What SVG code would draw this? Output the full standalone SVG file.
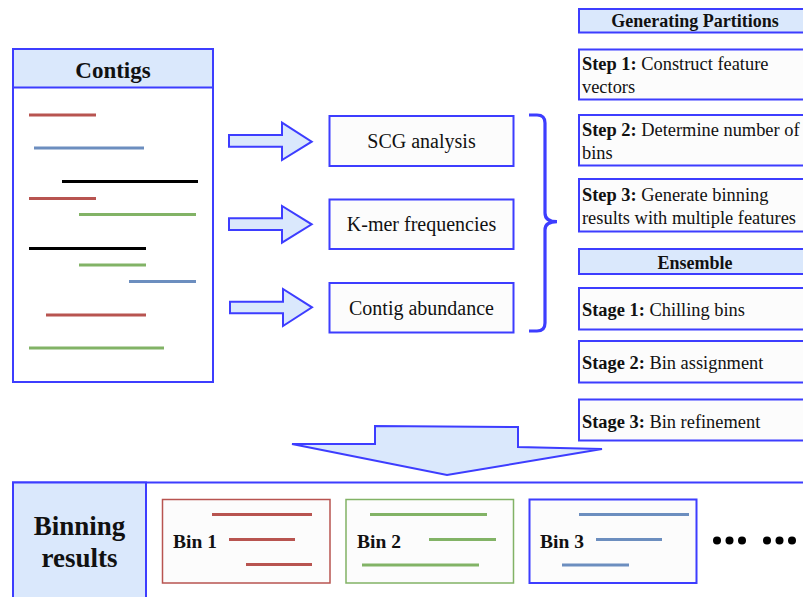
<svg xmlns="http://www.w3.org/2000/svg" width="803" height="597" viewBox="0 0 803 597">
<style>
  .box { fill: #fcfcfc; stroke: #3d3dff; stroke-width: 2; }
  .hdr { fill: #dae8fc; stroke: #3d3dff; stroke-width: 2; }
  .t { font-family: "Liberation Serif", "Times New Roman", serif; fill: #111; }
  .b { font-weight: bold; }
  .s { font-size: 18.4px; }
  .red { stroke: #b85450; stroke-width: 3; }
  .blue { stroke: #6c8ebf; stroke-width: 3; }
  .green { stroke: #82b366; stroke-width: 3; }
  .blk { stroke: #000; stroke-width: 3; }
  .arr { fill: #dae8fc; stroke: #3d3dff; stroke-width: 2; stroke-linejoin: miter; }
</style>
<rect width="803" height="597" fill="#ffffff"/>

<g id="contigs">
  <rect x="13" y="49" width="200" height="333" fill="#ffffff" stroke="#3d3dff" stroke-width="2"/>
  <rect x="13" y="49" width="200" height="38.5" class="hdr"/>
  <text x="113" y="77.5" class="t b" font-size="23" text-anchor="middle">Contigs</text>
  <line x1="29" y1="115" x2="96" y2="115" class="red"/>
  <line x1="34" y1="148" x2="144" y2="148" class="blue"/>
  <line x1="62" y1="181.5" x2="198" y2="181.5" class="blk"/>
  <line x1="29" y1="198.5" x2="96" y2="198.5" class="red"/>
  <line x1="79" y1="214.5" x2="196" y2="214.5" class="green"/>
  <line x1="29" y1="248.5" x2="146" y2="248.5" class="blk"/>
  <line x1="79" y1="265" x2="146" y2="265" class="green"/>
  <line x1="129" y1="281.5" x2="196" y2="281.5" class="blue"/>
  <line x1="46" y1="315" x2="146" y2="315" class="red"/>
  <line x1="29" y1="348" x2="164" y2="348" class="green"/>
</g>

<g id="connectors">
  <polygon class="arr" points="229,135 282,135 282,122.7 311.7,141.7 282,160 282,146.7 229,146.7"/>
  <polygon class="arr" points="229,218.3 282,218.3 282,206 311.7,224.3 282,242.7 282,230 229,230"/>
  <polygon class="arr" points="230,301.7 283,301.7 283,289 312,307.3 283,326 283,313.3 230,313.3"/>
  <path d="M529,115 H537 Q545,115 545,123 V213 Q545,221.7 557,221.7 Q545,221.7 545,230 V323 Q545,331 537,331 H529" fill="none" stroke="#3d3dff" stroke-width="3.2"/>
  <polygon class="arr" points="292,444 375,444 375,426 518,427 518,447 602,449 447,475"/>
</g>

<g id="scg">
  <rect x="329.5" y="116" width="184" height="50" class="box"/>
  <text x="421.5" y="147.5" class="t" font-size="20" text-anchor="middle">SCG analysis</text>
</g>
<g id="kmer">
  <rect x="329.5" y="199.5" width="184" height="49.5" class="box"/>
  <text x="421.5" y="231" class="t" font-size="20" text-anchor="middle">K-mer frequencies</text>
</g>
<g id="abundance">
  <rect x="329.5" y="283" width="184" height="49.5" class="box"/>
  <text x="421.5" y="314.5" class="t" font-size="20" text-anchor="middle">Contig abundance</text>
</g>

<g id="gen-partitions">
  <rect x="579" y="9" width="240" height="23.5" class="hdr"/>
  <text x="695" y="27" class="t b" font-size="18" text-anchor="middle">Generating Partitions</text>
</g>
<g id="step1">
  <rect x="579" y="49.5" width="240" height="50" class="box"/>
  <text x="582" y="69.5" class="t s"><tspan class="b">Step 1:</tspan> Construct feature</text>
  <text x="582" y="92.5" class="t s">vectors</text>
</g>
<g id="step2">
  <rect x="579" y="115" width="240" height="50.5" class="box"/>
  <text x="582" y="135.5" class="t s"><tspan class="b">Step 2:</tspan> Determine number of</text>
  <text x="582" y="158.5" class="t s">bins</text>
</g>
<g id="step3">
  <rect x="579" y="179" width="240" height="52.5" class="box"/>
  <text x="582" y="200.5" class="t s"><tspan class="b">Step 3:</tspan> Generate binning</text>
  <text x="582" y="223.5" class="t s">results with multiple features</text>
</g>
<g id="ensemble">
  <rect x="579" y="249" width="240" height="25" class="hdr"/>
  <text x="695" y="268.5" class="t b" font-size="18" text-anchor="middle">Ensemble</text>
</g>
<g id="stage1">
  <rect x="579" y="288" width="240" height="41.5" class="box"/>
  <text x="582" y="315.5" class="t s"><tspan class="b">Stage 1:</tspan> Chilling bins</text>
</g>
<g id="stage2">
  <rect x="579" y="341" width="240" height="41.5" class="box"/>
  <text x="582" y="369" class="t s"><tspan class="b">Stage 2:</tspan> Bin assignment</text>
</g>
<g id="stage3">
  <rect x="579" y="399.5" width="240" height="41" class="box"/>
  <text x="582" y="427.5" class="t s"><tspan class="b">Stage 3:</tspan> Bin refinement</text>
</g>

<g id="binning-results">
  <rect x="13" y="482.5" width="800" height="130" fill="#ffffff" stroke="#3d3dff" stroke-width="2"/>
  <rect x="13" y="482.5" width="133" height="130" class="hdr"/>
  <text x="79.5" y="534.5" class="t b" font-size="27" text-anchor="middle">Binning</text>
  <text x="79.5" y="566.5" class="t b" font-size="27" text-anchor="middle">results</text>
</g>
<g id="bin1">
  <rect x="162.5" y="499.5" width="167.5" height="83.5" fill="#fcfcfc" stroke="#b85450" stroke-width="1.5"/>
  <text x="173" y="547.5" class="t b" font-size="19.5">Bin 1</text>
  <line x1="212" y1="514.5" x2="312" y2="514.5" class="red"/>
  <line x1="229" y1="539.5" x2="295" y2="539.5" class="red"/>
  <line x1="246" y1="564.5" x2="312" y2="564.5" class="red"/>
</g>
<g id="bin2">
  <rect x="346" y="499.5" width="167.5" height="83.5" fill="#fcfcfc" stroke="#82b366" stroke-width="1.5"/>
  <text x="357" y="547.5" class="t b" font-size="19.5">Bin 2</text>
  <line x1="370" y1="514.5" x2="487" y2="514.5" class="green"/>
  <line x1="429" y1="539.5" x2="496" y2="539.5" class="green"/>
  <line x1="362" y1="565" x2="479" y2="565" class="green"/>
</g>
<g id="bin3">
  <rect x="529.5" y="499.5" width="167" height="83.5" fill="#fcfcfc" stroke="#3d3dff" stroke-width="2"/>
  <text x="540" y="547.5" class="t b" font-size="19.5">Bin 3</text>
  <line x1="579" y1="514.5" x2="689" y2="514.5" class="blue"/>
  <line x1="596" y1="539.5" x2="662" y2="539.5" class="blue"/>
  <line x1="562" y1="565" x2="629" y2="565" class="blue"/>
</g>
<g id="ellipsis" fill="#000">
  <circle cx="717" cy="540.5" r="4"/>
  <circle cx="729.5" cy="540.5" r="4"/>
  <circle cx="742" cy="540.5" r="4"/>
  <circle cx="767" cy="540.5" r="4"/>
  <circle cx="779.5" cy="540.5" r="4"/>
  <circle cx="792" cy="540.5" r="4"/>
</g>
</svg>
